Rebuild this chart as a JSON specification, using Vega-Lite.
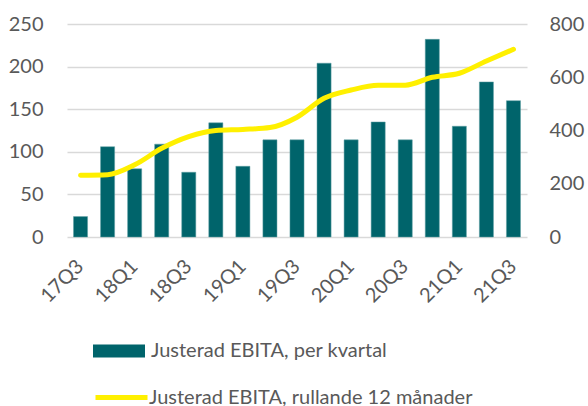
{
  "$schema": "https://vega.github.io/schema/vega-lite/v6.json",
  "autosize": "none",
  "width": 460,
  "height": 213,
  "padding": {"left": 67, "top": 24, "right": 61, "bottom": 169},
  "background": "white",
  "config": {
    "font": "Lato",
    "view": {"stroke": null},
    "axis": {"labelFont": "Lato", "labelColor": "#595959", "labelFontSize": 20, "ticks": false, "domain": false, "title": null}
  },
  "data": {
    "values": [
      {"q": "17Q3", "kv": 24, "r12": 232},
      {"q": "17Q4", "kv": 106, "r12": 234},
      {"q": "18Q1", "kv": 80, "r12": 271},
      {"q": "18Q2", "kv": 109, "r12": 333},
      {"q": "18Q3", "kv": 76, "r12": 377},
      {"q": "18Q4", "kv": 134, "r12": 400},
      {"q": "19Q1", "kv": 83, "r12": 404},
      {"q": "19Q2", "kv": 114, "r12": 411},
      {"q": "19Q3", "kv": 114, "r12": 450},
      {"q": "19Q4", "kv": 204, "r12": 521},
      {"q": "20Q1", "kv": 114, "r12": 552},
      {"q": "20Q2", "kv": 135, "r12": 570},
      {"q": "20Q3", "kv": 114, "r12": 570},
      {"q": "20Q4", "kv": 232, "r12": 600},
      {"q": "21Q1", "kv": 130, "r12": 615},
      {"q": "21Q2", "kv": 182, "r12": 661},
      {"q": "21Q3", "kv": 160, "r12": 705}
    ]
  },
  "encoding": {
    "x": {
      "field": "q", "type": "nominal", "sort": null,
      "scale": {"paddingInner": 0.48, "paddingOuter": 0.24},
      "axis": {"labelAngle": -45, "labelAlign": "right", "labelBaseline": "middle", "labelPadding": 26, "labelFontSize": 20, "values": ["17Q3","18Q1","18Q3","19Q1","19Q3","20Q1","20Q3","21Q1","21Q3"]}
    }
  },
  "layer": [
    {
      "mark": {"type": "bar", "stroke": "#5f9ea3", "strokeWidth": 0.5},
      "encoding": {
        "y": {
          "field": "kv", "type": "quantitative",
          "scale": {"domain": [0, 250]},
          "axis": {"orient": "left", "values": [0,50,100,150,200,250], "grid": true, "gridColor": "#d9d9d9", "gridWidth": 1.5, "labelPadding": 24}
        },
        "fill": {
          "datum": "Justerad EBITA, per kvartal",
          "scale": {"range": ["#00646B"]},
          "legend": {
            "orient": "none", "legendX": 26, "legendY": 301, "title": null,
            "symbolType": "M-1,-0.25L1,-0.25L1,0.25L-1,0.25Z", "symbolSize": 2704, "symbolStrokeWidth": 0,
            "labelFont": "Lato", "labelFontSize": 20, "labelColor": "#595959", "labelOffset": 6, "labelLimit": 500
          }
        }
      }
    },
    {
      "mark": {"type": "line", "strokeWidth": 5, "interpolate": "monotone", "strokeCap": "round"},
      "encoding": {
        "y": {
          "field": "r12", "type": "quantitative",
          "scale": {"domain": [0, 800]},
          "axis": {"orient": "right", "values": [0,200,400,600,800], "grid": false, "labelPadding": 22}
        },
        "stroke": {
          "datum": "Justerad EBITA, rullande 12 månader",
          "scale": {"range": ["#FFF000"]},
          "legend": {
            "orient": "none", "legendX": 26, "legendY": 345, "title": null,
            "symbolType": "stroke", "symbolSize": 2704, "symbolStrokeWidth": 5,
            "labelFont": "Lato", "labelFontSize": 20, "labelColor": "#595959", "labelOffset": -1, "labelLimit": 500
          }
        }
      }
    }
  ],
  "resolve": {"scale": {"y": "independent"}}
}
